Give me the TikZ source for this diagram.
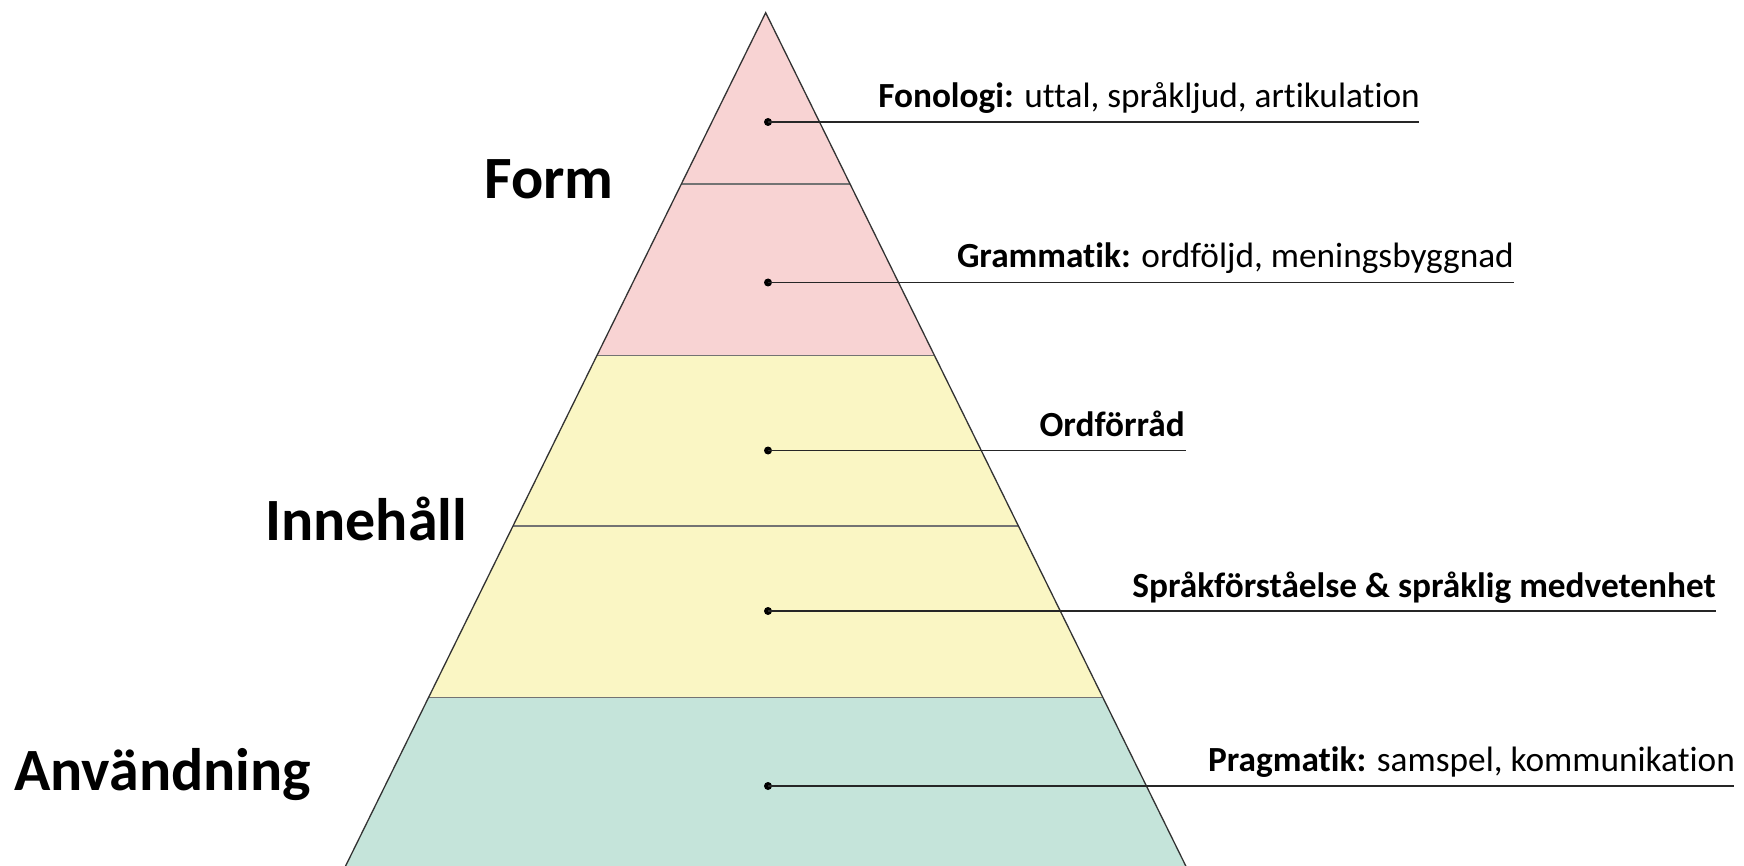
\documentclass[tikz,border=0pt]{standalone}
\usepackage{fontspec}
\setmainfont{Carlito}[RawFeature={-liga}]
\begin{document}
\begin{tikzpicture}[x=1pt,y=-1pt,
  biglabel/.style={font=\fontsize{60}{70}\selectfont\bfseries, inner sep=0pt, anchor=base west},
  desc/.style={font=\fontsize{35.3}{40}\selectfont, inner sep=0pt, anchor=base east},
  dotnode/.style={circle, fill=black, inner sep=0pt, minimum size=8pt},
  conn/.style={line width=1.8pt, draw=black!85},
  divider/.style={line width=1.8pt, draw=black!55},
  outline/.style={line width=1.3pt, draw=black!80}]
\definecolor{pinkband}{RGB}{248,211,211}
\definecolor{yellowband}{RGB}{250,246,196}
\definecolor{tealband}{RGB}{197,228,218}
\useasboundingbox (0,0) rectangle (1744,866);
\fill[white] (0,0) rectangle (1744,866);
\clip (0,0) rectangle (1744,866);
\coordinate (apex) at (765.7,12.7);
\coordinate (bl) at (338.7,880);
\coordinate (br) at (1192.7,880);
\begin{scope}
  \clip (apex) -- (br) -- (bl) -- cycle;
  \fill[pinkband] (300,0) rectangle (1250,355.5);
  \fill[yellowband] (300,355.5) rectangle (1250,697.5);
  \fill[tealband] (300,697.5) rectangle (1250,880);
  \draw[divider] (300,184) -- (1250,184);
  \draw[divider] (300,355.5) -- (1250,355.5);
  \draw[divider] (300,526) -- (1250,526);
  \draw[divider] (300,697.5) -- (1250,697.5);
\end{scope}
\draw[outline] (bl) -- (apex) -- (br);
% dots
\node[dotnode] (d1) at (768,122) {};
\node[dotnode] (d2) at (768,282.5) {};
\node[dotnode] (d3) at (768,450.5) {};
\node[dotnode] (d4) at (768,611) {};
\node[dotnode] (d5) at (768,786) {};
\coordinate (e1) at (1419,122);
\coordinate (e2) at (1514,282.5);
\coordinate (e3) at (1186,450.5);
\coordinate (e4) at (1716,611);
\coordinate (e5) at (1734,786);
\draw[conn] (d1.center) -- (e1);
\draw[conn] (d2.center) -- (e2);
\draw[conn] (d3.center) -- (e3);
\draw[conn] (d4.center) -- (e4);
\draw[conn] (d5.center) -- (e5);
% descriptions
\node[desc] (t1) at (1420,107.3) {\textbf{Fonologi:} uttal, språkljud, artikulation};
\node[desc] (t2) at (1514,268) {\textbf{Grammatik:} ordföljd, meningsbyggnad};
\node[desc] (t3) at (1185,436) {\textbf{Ordförråd}};
\node[desc] (t4) at (1716,597) {\textbf{Språkförståelse \& språklig medvetenhet}};
\node[desc] (t5) at (1735,771.5) {\textbf{Pragmatik:} samspel, kommunikation};
% big labels
\node[biglabel] (form) at (484,199) {Form};
\node[biglabel] (inneh) at (265,540) {Innehåll};
\node[biglabel] (anv) at (14,790) {Användning};
\end{tikzpicture}
\end{document}
